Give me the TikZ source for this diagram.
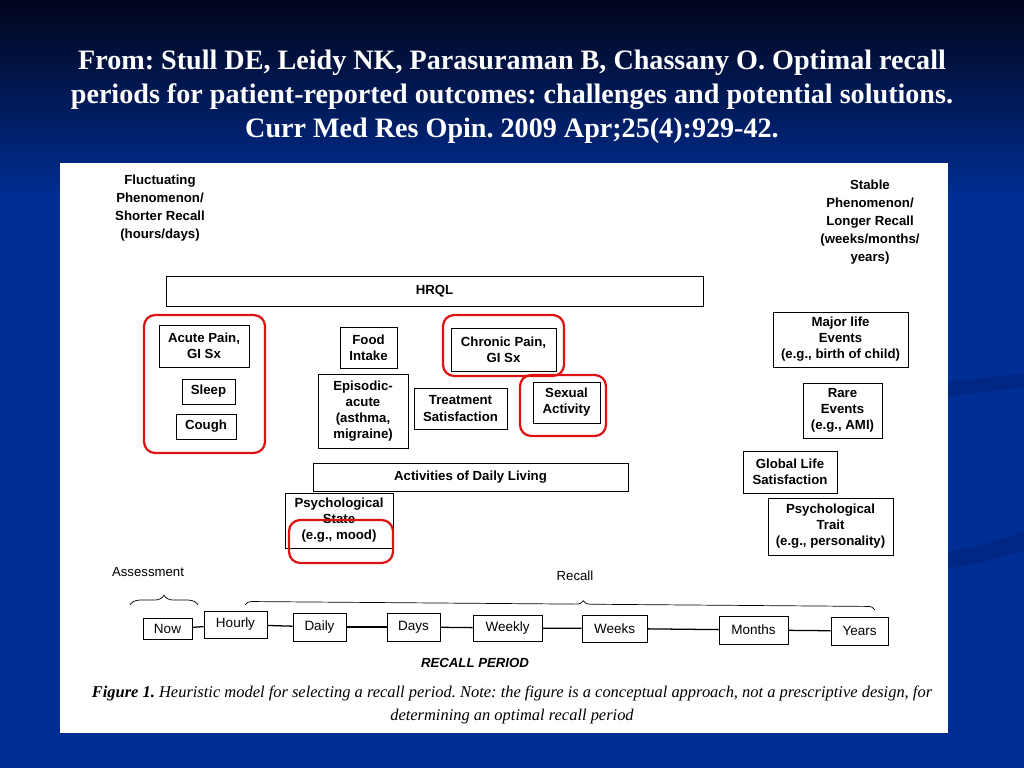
\documentclass[tikz,border=0pt]{standalone}
\usepackage{fontspec}
\setmainfont{Liberation Serif}
\setsansfont{Liberation Sans}
\usetikzlibrary{positioning,decorations.pathreplacing}
\definecolor{slideblue}{RGB}{0,46,148}
\definecolor{slidetop}{RGB}{2,6,28}
\definecolor{slidedark}{RGB}{0,26,92}
\definecolor{hlred}{RGB}{222,18,18}
\frenchspacing

\begin{document}
\begin{tikzpicture}[
  x=0.025cm, y=-0.025cm,
  sz/.style 2 args={minimum width=#1*0.025cm, minimum height=#2*0.025cm},
  box/.style={draw, line width=0.6pt, align=center, inner sep=0pt,
    font=\sffamily\bfseries\fontsize{9.4}{11.4}\selectfont},
  tbox/.style={draw, line width=0.6pt, inner sep=0pt,
    font=\sffamily\fontsize{9.6}{11}\selectfont},
  hl/.style={draw=hlred, line width=1.6pt, rounded corners=8pt},
  link/.style={line width=0.9pt},
  note/.style={align=center, font=\sffamily\bfseries\fontsize{9.4}{12.7}\selectfont},
  brc/.style={decorate, line width=0.5pt}
]
\useasboundingbox (0,0) rectangle (1024,768);
\fill[slideblue] (0,0) rectangle (1024,768);
\shade[top color=slidetop, bottom color=slideblue] (0,0) rectangle (1024,200);
\fill[slidedark, opacity=0.3] (948,382) .. controls (980,378) and (1000,376) .. (1024,374)
  -- (1024,388) .. controls (1000,390) and (980,392) .. (948,396) -- cycle;
\fill[slidedark, opacity=0.3] (948,552) .. controls (980,546) and (1000,540) .. (1024,532)
  -- (1024,550) .. controls (1000,558) and (980,564) .. (948,568) -- cycle;

\node[text=white, align=center, font=\bfseries\fontsize{20}{24.2}\selectfont] (title) at (512,97)
  {From: Stull DE, Leidy NK, Parasuraman B, Chassany O. Optimal recall\\
   periods for patient-reported outcomes: challenges and potential solutions.\\
   Curr Med Res Opin. 2009 Apr;25(4):929-42.};

\fill[white] (60,163) rectangle (948,733);

\node[note] (fluct) at (160,208) {Fluctuating\\Phenomenon/\\Shorter Recall\\(hours/days)};
\node[note] (stable) at (870,222) {Stable\\Phenomenon/\\Longer Recall\\(weeks/months/\\years)};

\node[box, sz={537}{30}] (hrql) at (434.5,291) {HRQL};
\node[box, sz={90}{42}] (acute) at (204,346) {Acute Pain,\\GI Sx};
\node[box, sz={53}{25}] (sleep) at (208.5,391.5) {Sleep};
\node[box, sz={60}{25}] (cough) at (206,426.5) {Cough};
\node[box, sz={57}{41}] (food) at (368.5,347.5) {Food\\Intake};
\node[box, sz={90}{74}] (episodic) at (363,411) {Episodic-\\acute\\(asthma,\\migraine)};
\node[box, sz={93}{41}] (treat) at (460.5,408.5) {Treatment\\Satisfaction};
\node[box, sz={105}{43}] (chronic) at (503.5,349.5) {Chronic Pain,\\GI Sx};
\node[box, sz={67}{41}] (sexual) at (566.5,402.5) {Sexual\\Activity};
\node[box, sz={315}{28}] (adl) at (470.5,477) {Activities of Daily Living};
\node[box, sz={108}{55}] (pstate) at (339,520.5) {Psychological\\State\\(e.g., mood)};
\node[box, sz={135}{55}] (major) at (840.5,339.5) {Major life\\Events\\(e.g., birth of child)};
\node[box, sz={79}{55}] (rare) at (842.5,410.5) {Rare\\Events\\(e.g., AMI)};
\node[box, sz={94}{42}] (global) at (790,472) {Global Life\\Satisfaction};
\node[box, sz={125}{57}] (ptrait) at (830.5,526.5) {Psychological\\Trait\\(e.g., personality)};

\draw[hl] (144,315) rectangle (265,453);
\draw[hl] (443,315) rectangle (564,376);
\draw[hl] (520,375) rectangle (606,436);
\draw[hl] (289,520) rectangle (393,563);

\node[font=\sffamily\fontsize{9.4}{11}\selectfont] (assess) at (148,572) {Assessment};
\node[font=\sffamily\fontsize{9.4}{11}\selectfont] (recall) at (575,576) {Recall};

\node[tbox, sz={49}{21}] (now) at (167.5,629) {Now};
\node[tbox, sz={63}{27}] (hourly) at (235.5,624.5) {Hourly};
\node[tbox, sz={53}{28}] (daily) at (319.5,627) {Daily};
\node[tbox, sz={53}{28}] (days) at (413.5,627) {Days};
\node[tbox, sz={69}{26}] (weekly) at (507.5,628) {Weekly};
\node[tbox, sz={65}{27}] (weeks) at (614.5,628.5) {Weeks};
\node[tbox, sz={69}{28}] (months) at (753.5,630) {Months};
\node[tbox, sz={57}{28}] (years) at (859.5,631) {Years};
\foreach \a/\b in {now/hourly, hourly/daily, daily/days, days/weekly,
                   weekly/weeks, weeks/months, months/years}
  \draw[link] (\a) -- (\b);

\draw[brc, decoration={brace, amplitude=7pt}] (130,605) -- (198,605);
\draw[brc, decoration={brace, amplitude=5pt, aspect=0.537}] (245,605) -- (875,610);

\node[font=\sffamily\bfseries\itshape\fontsize{9.4}{11}\selectfont] (period) at (475,663) {RECALL PERIOD};

\node[align=center, font=\itshape\fontsize{11.7}{16.4}\selectfont] (caption) at (512,705)
  {\textbf{Figure 1.} Heuristic model for selecting a recall period. Note: the figure is a conceptual approach, not a prescriptive design, for\\
   determining an optimal recall period};
\end{tikzpicture}
\end{document}
